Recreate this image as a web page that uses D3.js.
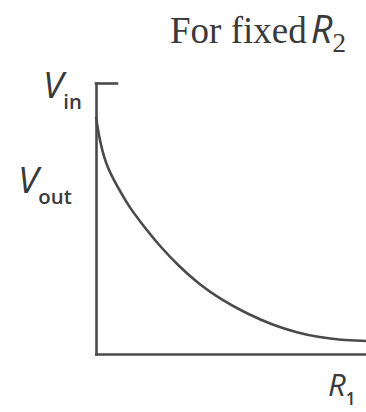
<!DOCTYPE html>
<html>
<head>
<meta charset="utf-8">
<script src="https://cdn.jsdelivr.net/npm/d3@7/dist/d3.min.js"></script>
<style>
  html, body { margin: 0; padding: 0; background: #fff; }
  svg { display: block; }
</style>
</head>
<body>
<svg id="chart" width="366" height="412"></svg>
<script>
// Output voltage (as a fraction of Vin) against R1, with R2 held fixed
const r1Values = [0, 0.15, 0.4, 0.8, 1.25, 1.75, 2.35, 3.1, 3.85, 4.6, 5.6, 6.55, 7.45, 8.3, 9.05, 10];
const voutValues = [0.875, 0.779, 0.69, 0.616, 0.539, 0.474, 0.399, 0.321, 0.255, 0.203, 0.148, 0.107, 0.079, 0.061, 0.052, 0.048];
const yTickValues = [1];           // Vin level
const titleText = "For fixed";

const svg = d3.select("#chart");
const ink = "#4a4a4a";

const x = d3.scaleLinear().domain([0, 10]).range([96, 366]);
const y = d3.scaleLinear().domain([0, 1]).range([354, 83]);

// Axes: vertical axis with a short inward tick at Vin, plain horizontal axis
const yAxis = d3.axisLeft(y).tickValues(yTickValues).tickSize(-21).tickSizeOuter(0).tickFormat("");
const xAxis = d3.axisBottom(x).tickValues([]).tickSizeOuter(0);

const gy = svg.append("g").attr("transform", `translate(${x(0)},0)`).call(yAxis);
const gx = svg.append("g").attr("transform", `translate(0,${y(0)})`).call(xAxis);
[gy, gx].forEach(g => {
  g.selectAll("path, line").attr("stroke", ink).attr("stroke-width", 2.6).attr("stroke-linecap", "square");
});

// Curve
const data = r1Values.map((r, i) => ({ r, v: voutValues[i] }));
const line = d3.line().x(d => x(d.r)).y(d => y(d.v)).curve(d3.curveBasis);
svg.append("path")
  .datum(data)
  .attr("d", line)
  .attr("fill", "none")
  .attr("stroke", ink)
  .attr("stroke-width", 2.6);

// Title
const title = svg.append("text")
  .attr("x", 170).attr("y", 43)
  .attr("fill", "#3a3a3a")
  .attr("font-family", "Liberation Serif, serif")
  .attr("font-size", 37)
  .text(titleText);
title.append("tspan")
  .attr("font-family", "Open Sans, sans-serif").attr("font-style", "italic")
  .attr("font-size", 38).attr("dx", 4)
  .text("R");
title.append("tspan")
  .attr("font-size", 27).attr("dy", 9)
  .text("2");

// Axis labels with subscripts
function subLabel(px, py, sub, size) {
  const t = svg.append("text")
    .attr("x", px).attr("y", py)
    .attr("fill", "#3a3a3a")
    .attr("font-family", "Open Sans, sans-serif");
  t.append("tspan").attr("font-style", "italic").attr("font-size", size).text(sub[0]);
  t.append("tspan").attr("font-size", size * 0.55).attr("font-weight", 600)
    .attr("dy", size * 0.3).text(sub[1]);
  return t;
}
subLabel(43, 98, ["V", "in"], 37);
subLabel(18, 193, ["V", "out"], 37);
subLabel(328, 396, ["R", "1"], 31);
</script>
</body>
</html>
